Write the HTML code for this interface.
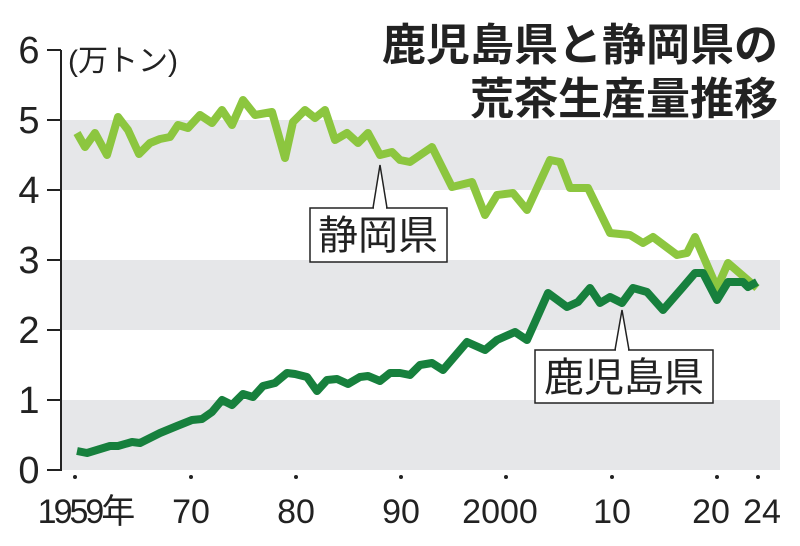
<!DOCTYPE html>
<html><head><meta charset="utf-8"><style>
html,body{margin:0;padding:0;background:#fff;}
svg{display:block;font-family:"Liberation Sans","Noto Sans CJK JP",sans-serif;}
</style></head><body>
<svg width="800" height="546" viewBox="0 0 800 546">
<rect x="62" y="120" width="718" height="70" fill="#e6e7e9"/>
<rect x="62" y="260" width="718" height="70" fill="#e6e7e9"/>
<rect x="62" y="400" width="718" height="70" fill="#e6e7e9"/>
<g stroke="#222" stroke-width="2" fill="none">
<line x1="61" y1="50" x2="61" y2="471"/>
<line x1="47" y1="50" x2="61" y2="50"/><line x1="47" y1="120" x2="61" y2="120"/>
<line x1="47" y1="190" x2="61" y2="190"/><line x1="47" y1="260" x2="61" y2="260"/>
<line x1="47" y1="330" x2="61" y2="330"/><line x1="47" y1="400" x2="61" y2="400"/>
<line x1="47" y1="470" x2="61" y2="470"/>
</g>
<g fill="#222" font-size="38" text-anchor="middle">
<text x="29" y="63">6</text><text x="29" y="133">5</text><text x="29" y="203">4</text>
<text x="29" y="273">3</text><text x="29" y="343">2</text><text x="29" y="413">1</text><text x="29" y="483">0</text>
</g>
<text x="68" y="71" font-size="30" fill="#222">(万トン)</text>
<g fill="#222"><circle cx="75" cy="477" r="2"/><circle cx="191" cy="477" r="2"/><circle cx="296" cy="477" r="2"/><circle cx="401" cy="477" r="2"/><circle cx="506" cy="477" r="2"/><circle cx="612" cy="477" r="2"/><circle cx="717" cy="477" r="2"/><circle cx="758" cy="477" r="2"/></g>
<g fill="#222" font-size="34" text-anchor="middle">
<text x="85" y="523" letter-spacing="-3">1959年</text><text x="191" y="523">70</text><text x="296" y="523">80</text><text x="401" y="523">90</text><text x="500" y="523">2000</text><text x="612" y="523">10</text><text x="711" y="523">20</text><text x="762" y="523">24</text>
</g>
<g font-size="44" font-weight="bold" fill="#222" text-anchor="end">
<text x="778" y="60">鹿児島県と静岡県の</text>
<text x="778" y="114">荒茶生産量推移</text>
</g>
<polyline fill="none" stroke="#8cc63f" stroke-width="8" stroke-linejoin="round" points="77,133 85,147 95,133 107,155 118,117 128,130 139,154 150,143 160,139 170,137 178,125 188,128 200,115 212,123 222,110 232,125 243,100 255,115 272,112 285,158 293,122 305,110 315,118 325,110 335,140 347,133 358,143 368,133 380,155 392,152 400,160 410,162 432,147 452,187 472,182 485,215 497,195 513,193 527,210 550,160 560,162 570,188 588,188 610,233 630,235 643,243 653,237 677,255 687,253 695,237 717,288 728,263 757,288"/>
<polyline fill="none" stroke="#17803d" stroke-width="8" stroke-linejoin="round" points="77,451 87,453 110,446 118,446 132,442 140,443 160,433 177,426 192,420 202,419 212,412 222,400 232,405 243,394 253,397 263,386 275,383 287,373 295,374 307,377 317,391 327,380 337,379 348,384 360,377 368,376 380,381 390,373 400,373 410,375 420,365 432,363 443,370 467,342 485,350 497,340 515,332 527,340 548,293 567,307 578,302 590,288 600,303 610,297 622,303 633,288 647,292 663,310 683,287 695,273 703,273 717,300 728,282 743,282 748,287 757,282"/>
<g stroke="#222" stroke-width="1.5" fill="#fff">
<polyline points="373,208 380,165 387,208"/>
<rect x="310" y="208" width="137" height="54"/>
<line x1="374" y1="208" x2="386" y2="208" stroke="#fff" stroke-width="3"/>
<polyline points="615,350 622,310 629,350"/>
<rect x="535" y="350" width="178" height="53"/>
<line x1="616" y1="350" x2="628" y2="350" stroke="#fff" stroke-width="3"/>
</g>
<text x="378" y="249" font-size="40" fill="#222" text-anchor="middle">静岡県</text>
<text x="624" y="391" font-size="40" fill="#222" text-anchor="middle">鹿児島県</text>
</svg>
</body></html>
